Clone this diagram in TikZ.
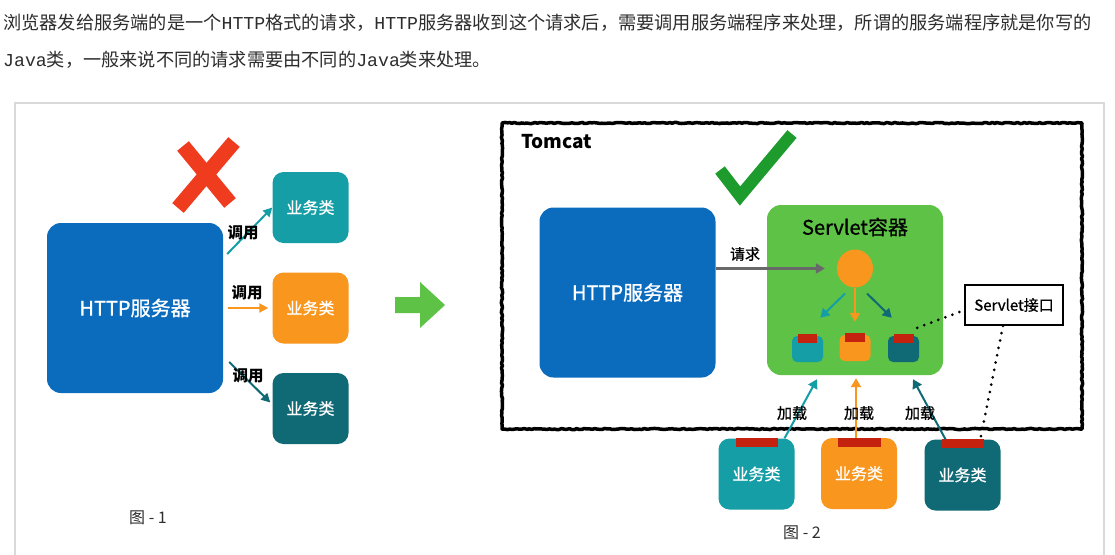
\documentclass[tikz,border=0pt]{standalone}
\usepackage{fontspec}
\setmainfont{Noto Sans CJK SC}
\newfontfamily\medfont{Noto Sans CJK SC}[FakeBold=0.9]
\newfontfamily\codefont{Liberation Mono}
\usepackage{tikz}
\usetikzlibrary{positioning, arrows.meta, shapes.geometric, decorations.pathmorphing}

\definecolor{srvblue}{RGB}{11,108,190}
\definecolor{bizteal}{RGB}{22,158,166}
\definecolor{bizorange}{RGB}{248,150,30}
\definecolor{bizdark}{RGB}{16,106,117}
\definecolor{boxgreen}{RGB}{94,194,70}
\definecolor{okgreen}{RGB}{30,155,45}
\definecolor{xred}{RGB}{240,60,30}
\definecolor{tabred}{RGB}{196,34,14}
\definecolor{reqgray}{RGB}{105,105,105}
\definecolor{textgray}{RGB}{45,45,45}

\begin{document}
\begin{tikzpicture}[x=1pt, y=-1pt,
    bigbox/.style={rectangle, rounded corners=14pt, minimum width=176pt, minimum height=170pt,
      inner sep=0pt, text=white, font=\medfont\fontsize{20}{24}\selectfont},
    biz/.style={rectangle, rounded corners=11pt, minimum width=76pt, minimum height=71pt,
      inner sep=0pt, text=white, font=\medfont\fontsize{16}{19}\selectfont},
    mini/.style={rectangle, rounded corners=5pt, minimum width=31pt, minimum height=26pt, inner sep=0pt},
    tabbox/.style={rectangle, fill=tabred, inner sep=0pt, minimum width=#1, minimum height=9pt},
    lbl/.style={font=\medfont\fontsize{15}{18}\selectfont, inner sep=1pt, text=black},
    figcap/.style={font=\fontsize{16}{19}\selectfont, text=textgray, inner sep=0pt},
    call/.style={-{Triangle[length=9pt, width=9pt]}, line width=2pt},
    small/.style={-{Triangle[length=9pt, width=10pt]}, line width=2pt},
    dots/.style={line width=3pt, line cap=round, dash pattern=on 0pt off 7.5pt},
    sketch/.style={decorate, decoration={random steps, segment length=2.5pt, amplitude=0.6pt},
      line width=3.5pt, line join=round},
  ]
    \useasboundingbox (0,0) rectangle (1115,554);
    \fill[white] (0,0) rectangle (1115,554);

    \node[anchor=west, inner sep=0pt, text=textgray, font=\fontsize{18.2}{20}\selectfont] (intro1) at (3,23)
      {浏览器发给服务端的是一个{\codefont HTTP}格式的请求，{\codefont HTTP}服务器收到这个请求后，需要调用服务端程序来处理，所谓的服务端程序就是你写的};
    \node[anchor=west, inner sep=0pt, text=textgray, font=\fontsize{18.2}{20}\selectfont] (intro2) at (3,60)
      {{\codefont Java}类，一般来说不同的请求需要由不同的{\codefont Java}类来处理。};
    \draw[black!15, line width=1.5pt] (15,560) -- (15,103) -- (1104,103) -- (1104,560);

    % 图 - 1
    \node[bigbox, fill=srvblue] (http1) at (135,308) {HTTP服务器};
    \node[biz, fill=bizteal]   (biz1) at (310.5,207.5) {业务类};
    \node[biz, fill=bizorange] (biz2) at (310.5,308)   {业务类};
    \node[biz, fill=bizdark]   (biz3) at (310.5,408.5) {业务类};
    \draw[call, bizteal]   ([shift={(4,-54)}]http1.east) -- (biz1.west);
    \draw[call, bizorange] ([xshift=5pt]http1.east) -- ([xshift=-4pt]biz2.west);
    \draw[call, bizdark]   ([shift={(6,54)}]http1.east) -- ([shift={(-2,-6)}]biz3.west);
    \node[lbl, font=\fontsize{15.5}{18}\selectfont\bfseries] (call1) at (243,233) {调用};
    \node[lbl, font=\fontsize{15.5}{18}\selectfont\bfseries] (call2) at (247,293) {调用};
    \node[lbl, font=\fontsize{15.5}{18}\selectfont\bfseries] (call3) at (248,376) {调用};
    \draw[xred, line width=15pt] (183,146) -- (230,203);
    \draw[xred, line width=15pt] (234,142) -- (178,208);
    \fill[boxgreen] (395,297) -- (420,297) -- (420,282) -- (445,305) -- (420,328) -- (420,313) -- (395,313) -- cycle;
    \node[figcap] (cap1) at (148,518) {图 - 1};

    % 图 - 2
    \draw[sketch] (502,123) rectangle (1082,429);
    \node[anchor=west, inner sep=0pt, font=\fontsize{19}{22}\selectfont\bfseries] (tomcat) at (521,142) {Tomcat};
    \draw[okgreen, line width=12pt, line join=miter] (720,170) -- (740,196) -- (792,134);
    \node[bigbox, fill=srvblue] (http2) at (627.5,292.5) {HTTP服务器};
    \node[bigbox, fill=boxgreen] (ctr) at (855,290) {};
    \node[inner sep=0pt, font=\medfont\fontsize{20}{24}\selectfont] (ctrname) at (855,227) {Servlet容器};
    \node[ellipse, fill=bizorange, minimum width=36pt, minimum height=38pt, inner sep=0pt] (ball) at (855,268.5) {};
    \node[mini, fill=bizteal]   (sb1) at (807.5,349) {};
    \node[mini, fill=bizorange] (sb2) at (855,348)   {};
    \node[mini, fill=bizdark]   (sb3) at (903.5,349) {};
    \node[tabbox=19pt] (sb1t) at ([yshift=-2.5pt]sb1.north) {};
    \node[tabbox=20pt] (sb2t) at ([yshift=-2.5pt]sb2.north) {};
    \node[tabbox=20pt] (sb3t) at ([yshift=-2.5pt]sb3.north) {};
    \draw[small, reqgray, line width=2.5pt, shorten >=12pt] (http2.east |- ball.west) -- (ball.west);
    \node[lbl] (reqlbl) at (745,254) {请求};
    \draw[small, bizteal]   ([shift={(-10,25)}]ball.center) -- ([shift={(-3,-18)}]sb1.north east);
    \draw[small, bizorange] (ball.south) -- ([yshift=13pt]sb2.north);
    \draw[small, bizdark]   ([shift={(12,25)}]ball.center) -- ([shift={(4,-18)}]sb3.north west);

    \node[draw, line width=1.6pt, fill=white, minimum width=98pt, minimum height=40pt, inner sep=0pt,
      font=\medfont\fontsize{15}{18}\selectfont] (iface) at (1014,305) {Servlet接口};

    \node[biz, fill=bizteal]   (lb1) at (756.5,474) {业务类};
    \node[biz, fill=bizorange] (lb2) at (859,473.5) {业务类};
    \node[biz, fill=bizdark]   (lb3) at (962.5,475) {业务类};
    \node[tabbox=42pt] (lb1t) at ([yshift=-4.5pt]lb1.north) {};
    \node[tabbox=43pt] (lb2t) at ([yshift=-4.5pt]lb2.north) {};
    \node[tabbox=42pt] (lb3t) at ([yshift=-4.5pt]lb3.north) {};

    \draw[dots] ([shift={(-2,-8)}]sb3.north east) -- ([shift={(-2,6)}]iface.west);
    \draw[dots] ([xshift=-11pt]iface.south) -- ([shift={(-20,-2)}]lb3.north east);

    \draw[small, bizteal]   ([xshift=28pt]lb1.north) -- ([shift={(-38,4)}]ctr.south);
    \draw[small, bizorange] ([xshift=-3pt]lb2.north) -- ([shift={(1,3)}]ctr.south);
    \draw[small, bizdark]   ([xshift=-17pt]lb3.north) -- ([shift={(58,4)}]ctr.south);
    \node[lbl] (load1) at (792,413) {加载};
    \node[lbl] (load2) at (859,413) {加载};
    \node[lbl] (load3) at (920,413) {加载};
    \node[figcap] (cap2) at (802,533) {图 - 2};
\end{tikzpicture}
\end{document}
